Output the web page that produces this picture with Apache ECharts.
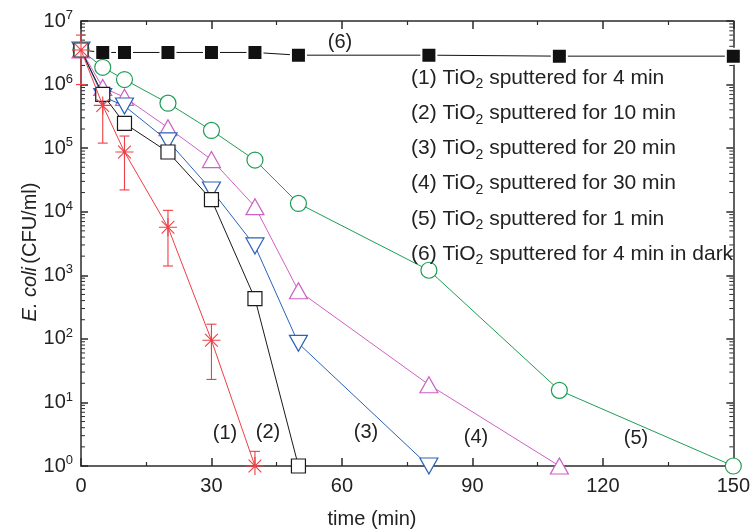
<!DOCTYPE html>
<html>
<head>
<meta charset="utf-8">
<script src="https://cdn.jsdelivr.net/npm/echarts@6/dist/echarts.min.js"></script>
<style>html,body{margin:0;padding:0;background:#fff}#c{width:753px;height:531px}</style>
</head>
<body>
<div id="c"></div>
<script>
// ---- data ----
const xTicks = [0, 30, 60, 90, 120, 150];
const yDecades = [1, 10, 100, 1e3, 1e4, 1e5, 1e6, 1e7];

// (1) TiO2 sputtered for 4 min  (red asterisks, with error bars)
const t1 = [0, 5, 10, 20, 30, 40];
const v1 = [3.5e6, 4.7e5, 8.7e4, 5.7e3, 95, 1];
const lo1 = [1.0e6, 1.2e5, 2.2e4, 1.4e3, 23, 1];
const hi1 = [6.0e6, 9.0e5, 1.55e5, 1.05e4, 170, 1.7];

// (2) TiO2 sputtered for 10 min (black open squares)
const t2 = [0, 5, 10, 20, 30, 40, 50];
const v2 = [3.5e6, 7.0e5, 2.45e5, 8.7e4, 1.55e4, 430, 1];

// (3) TiO2 sputtered for 20 min (blue down triangles)
const t3 = [0, 5, 10, 20, 30, 40, 50, 80];
const v3 = [3.5e6, 6.5e5, 4.6e5, 1.3e5, 2.2e4, 2.9e3, 85, 1];

// (4) TiO2 sputtered for 30 min (magenta up triangles)
const t4 = [0, 5, 10, 20, 30, 40, 50, 80, 110];
const v4 = [3.5e6, 9.0e5, 6.3e5, 2.1e5, 6.6e4, 1.2e4, 570, 19, 1];

// (5) TiO2 sputtered for 1 min (green open circles)
const t5 = [0, 5, 10, 20, 30, 40, 50, 80, 110, 150];
const v5 = [3.5e6, 1.87e6, 1.2e6, 5.1e5, 1.9e5, 6.5e4, 1.35e4, 1.2e3, 15.5, 1];

// (6) TiO2 sputtered for 4 min in dark (black filled squares)
const t6 = [0, 5, 10, 20, 30, 40, 50, 80, 110, 150];
const v6 = [3.5e6, 3.2e6, 3.2e6, 3.2e6, 3.2e6, 3.2e6, 2.9e6, 2.9e6, 2.8e6, 2.8e6];

const legendLines = [
  ['(1) TiO', '2', ' sputtered for 4 min'],
  ['(2) TiO', '2', ' sputtered for 10 min'],
  ['(3) TiO', '2', ' sputtered for 20 min'],
  ['(4) TiO', '2', ' sputtered for 30 min'],
  ['(5) TiO', '2', ' sputtered for 1 min'],
  ['(6) TiO', '2', ' sputtered for 4 min in dark']
];
const curveLabels = ['(1)', '(2)', '(3)', '(4)', '(5)', '(6)'];
const xTitle = 'time (min)';
const yTitleItalic = 'E. coli';
const yTitleRest = '(CFU/ml)';

// minor log ticks 2..9 per decade
const yMinor = [];
for (let k = 0; k < 7; k++) for (let m = 2; m <= 9; m++) yMinor.push(m * Math.pow(10, k));

// ---- chart ----
const FONT = 'Liberation Sans, Arial, sans-serif';
const AX = '#2b2b2b';
const TXT = '#222';
const FS = 20;
const chart = echarts.init(document.getElementById('c'));

function pairs(t, v) { return t.map((x, i) => [x, v[i]]); }

const asterisk = 'path://M0,-10L0,10M-10,0L10,0M-7.07,-7.07L7.07,7.07M-7.07,7.07L7.07,-7.07';

const axisCommon = {
  axisLine: { show: true, onZero: false, lineStyle: { color: AX, width: 1.5 } },
  splitLine: { show: false }
};

const option = {
  animation: false,
  backgroundColor: '#fff',
  grid: { left: 81, right: 17, top: 21, bottom: 65, containLabel: false },
  xAxis: [
    Object.assign({}, axisCommon, {
      type: 'value', min: 0, max: 150, interval: 30, position: 'bottom',
      axisTick: { show: true, inside: true, length: 8, lineStyle: { color: AX, width: 1.5 } },
      minorTick: { show: true, splitNumber: 2, length: 4, lineStyle: { color: AX, width: 1.2 } },
      axisLabel: { show: true, fontSize: FS, color: TXT, fontFamily: FONT, margin: 10,
        formatter: v => (xTicks.indexOf(v) >= 0 ? String(v) : '') }
    }),
    Object.assign({}, axisCommon, {
      type: 'value', min: 0, max: 150, interval: 30, position: 'top',
      axisTick: { show: true, inside: true, length: 8, lineStyle: { color: AX, width: 1.5 } },
      minorTick: { show: true, splitNumber: 2, length: 4, lineStyle: { color: AX, width: 1.2 } },
      axisLabel: { show: false }
    })
  ],
  yAxis: [
    Object.assign({}, axisCommon, {
      type: 'log', logBase: 10, min: 1, max: 1e7, splitNumber: 7, position: 'left',
      axisTick: { show: true, inside: true, length: 7, lineStyle: { color: AX, width: 1.5 } },
      axisLabel: { show: true, margin: 8, fontFamily: FONT,
        formatter: v => {
          const e = Math.round(Math.log10(v));
          return '{b|10}{p|' + e + '}';
        },
        rich: {
          b: { fontSize: FS, color: TXT, fontFamily: FONT, lineHeight: 24 },
          p: { fontSize: 13, color: TXT, fontFamily: FONT, verticalAlign: 'top', lineHeight: 14 }
        }
      }
    }),
    Object.assign({}, axisCommon, {
      type: 'log', logBase: 10, min: 1, max: 1e7, splitNumber: 7, position: 'right',
      axisTick: { show: true, inside: true, length: 7, lineStyle: { color: AX, width: 1.5 } },
      axisLabel: { show: false }
    })
  ],
  series: [
    // minor ticks on both y sides (through the log scale)
    {
      type: 'custom', xAxisIndex: 0, yAxisIndex: 0, silent: true, z: 1,
      data: yMinor.map(v => [0, v]),
      renderItem: (params, api) => {
        const v = api.value(1);
        const pl = api.coord([0, v]);
        const pr = api.coord([150, v]);
        return { type: 'group', children: [
          { type: 'line', shape: { x1: pl[0], y1: pl[1], x2: pl[0] + 4, y2: pl[1] }, style: { stroke: AX, lineWidth: 1 } },
          { type: 'line', shape: { x1: pr[0], y1: pr[1], x2: pr[0] - 4, y2: pr[1] }, style: { stroke: AX, lineWidth: 1 } }
        ] };
      }
    },
    // error bars for series (1)
    {
      type: 'custom', xAxisIndex: 0, yAxisIndex: 0, silent: true, z: 3,
      data: t1.map((x, i) => [x, lo1[i], hi1[i]]),
      renderItem: (params, api) => {
        const a = api.coord([api.value(0), api.value(1)]);
        const b = api.coord([api.value(0), api.value(2)]);
        const w = 5;
        const st = { stroke: '#ef3e45', lineWidth: 1.1 };
        return { type: 'group', children: [
          { type: 'line', shape: { x1: a[0], y1: a[1], x2: b[0], y2: b[1] }, style: st },
          { type: 'line', shape: { x1: a[0] - w, y1: a[1], x2: a[0] + w, y2: a[1] }, style: st },
          { type: 'line', shape: { x1: b[0] - w, y1: b[1], x2: b[0] + w, y2: b[1] }, style: st }
        ] };
      }
    },
    {
      name: '(6)', type: 'line', data: pairs(t6, v6), z: 4,
      symbol: 'rect', symbolSize: 15,
      lineStyle: { color: '#111', width: 1 },
      itemStyle: { color: '#111', borderColor: '#fff', borderWidth: 2 }
    },
    {
      name: '(5)', type: 'line', data: pairs(t5, v5), z: 5,
      symbol: 'circle', symbolSize: 16,
      lineStyle: { color: '#1f9d55', width: 1 },
      itemStyle: { color: '#fff', borderColor: '#1f9d55', borderWidth: 1.2 }
    },
    {
      name: '(4)', type: 'line', data: pairs(t4, v4), z: 6,
      symbol: 'triangle', symbolSize: [18, 16],
      lineStyle: { color: '#cc62c4', width: 1 },
      itemStyle: { color: '#fff', borderColor: '#cc62c4', borderWidth: 1.2 }
    },
    {
      name: '(3)', type: 'line', data: pairs(t3, v3), z: 7,
      symbol: 'triangle', symbolRotate: 180, symbolSize: [18, 16],
      lineStyle: { color: '#2a62b8', width: 1 },
      itemStyle: { color: '#fff', borderColor: '#2a62b8', borderWidth: 1.2 }
    },
    {
      name: '(2)', type: 'line', data: pairs(t2, v2), z: 8,
      symbol: 'rect', symbolSize: 14,
      lineStyle: { color: '#1a1a1a', width: 1 },
      itemStyle: { color: '#fff', borderColor: '#1a1a1a', borderWidth: 1.2 }
    },
    {
      name: '(1)', type: 'line', data: pairs(t1, v1), z: 9,
      symbol: asterisk, symbolSize: 18,
      lineStyle: { color: '#ef3e45', width: 1 },
      itemStyle: { color: '#ef3e45', borderColor: '#ef3e45', borderWidth: 1.1 }
    }
  ],
  graphic: []
};

// legend texts
const LFS = 21;
const legendTop = 78, legendStep = 35.2, legendLeft = 411;
legendLines.forEach((l, i) => {
  option.graphic.push({
    type: 'text', x: legendLeft, y: legendTop + i * legendStep, z: 20,
    style: {
      text: '{a|' + l[0] + '}{s|' + l[1] + '}{a|' + l[2] + '}',
      verticalAlign: 'middle',
      rich: {
        a: { fontSize: LFS, fill: TXT, fontFamily: FONT, lineHeight: 27 },
        s: { fontSize: 14, fill: TXT, fontFamily: FONT, verticalAlign: 'bottom', lineHeight: 15 }
      }
    }
  });
});

// curve labels
const curveLabelPos = [[225, 433], [268, 432], [366, 432], [476, 437], [636, 438], [340, 42]];
curveLabels.forEach((s, i) => {
  option.graphic.push({
    type: 'text', x: curveLabelPos[i][0], y: curveLabelPos[i][1], z: 20,
    style: { text: s, fontSize: FS, fill: TXT, fontFamily: FONT, align: 'center', verticalAlign: 'middle' }
  });
});

// x axis title
option.graphic.push({
  type: 'text', x: 372, y: 519, z: 20,
  style: { text: xTitle, fontSize: FS, fill: TXT, fontFamily: FONT, align: 'center', verticalAlign: 'middle' }
});

// y axis title with italic E. coli
option.graphic.push({
  type: 'text', x: 30, y: 252, rotation: Math.PI / 2, z: 20,
  style: {
    text: '{i|' + yTitleItalic + '} {n|' + yTitleRest + '}',
    align: 'center', verticalAlign: 'middle',
    rich: {
      i: { fontSize: FS, fontStyle: 'italic', fill: TXT, fontFamily: FONT },
      n: { fontSize: FS, fill: TXT, fontFamily: FONT }
    }
  }
});

chart.setOption(option);
</script>
</body>
</html>
